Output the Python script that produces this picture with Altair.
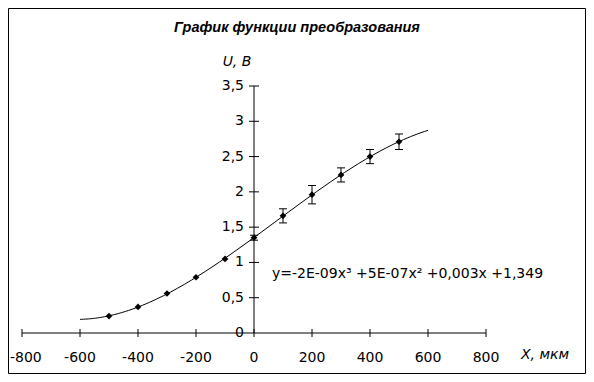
import altair as alt
import pandas as pd

# ---- data ----
x_vals = [-500, -400, -300, -200, -100, 0, 100, 200, 300, 400, 500]
u_vals = [0.24, 0.37, 0.56, 0.79, 1.05, 1.35, 1.66, 1.96, 2.24, 2.50, 2.71]
err_x = [0, 100, 200, 300, 400, 500]
err_u = [1.35, 1.66, 1.96, 2.24, 2.50, 2.71]
err_e = [0.035, 0.10, 0.13, 0.10, 0.10, 0.11]

x_ticks = [-800, -600, -400, -200, 0, 200, 400, 600, 800]
x_tick_labels = ["-800", "-600", "-400", "-200", "0", "200", "400", "600", "800"]
y_ticks = [0, 0.5, 1, 1.5, 2, 2.5, 3, 3.5]
y_tick_labels = ["0", "0,5", "1", "1,5", "2", "2,5", "3", "3,5"]

title_text = "График функции преобразования"
y_title = "U, B"
x_title = "X, мкм"
equation = "y=-2E-09x³ +5E-07x² +0,003x +1,349"
trend_extent = [-600, 600]

# ---- layout ----
W, H = 578, 366
X0, X1 = 14, 478      # pixel positions of -800 and 800
Y0, Y1 = 325, 78      # pixel positions of 0 and 3.5
FONT = "DejaVu Sans"

xs = alt.Scale(domain=[-800, 800], range=[X0, X1])
ys = alt.Scale(domain=[0, 3.5], range=[Y0, Y1])

pts = pd.DataFrame({"x": x_vals, "u": u_vals})
errs = pd.DataFrame({"x": err_x, "u": err_u, "e": err_e})
errs["lo"] = errs["u"] - errs["e"]
errs["hi"] = errs["u"] + errs["e"]
xt = pd.DataFrame({"x": x_ticks, "lab": x_tick_labels})
yt = pd.DataFrame({"y": y_ticks, "lab": y_tick_labels})
axis_x = pd.DataFrame({"x": [x_ticks[0]], "x2": [x_ticks[-1]], "y": [0]})
axis_y = pd.DataFrame({"x": [0], "y": [0], "y2": [y_ticks[-1]]})

frame = alt.Chart(pd.DataFrame({"a": [0]})).mark_rect(
    fill=None, stroke="black", strokeWidth=1
).encode(x=alt.value(0.5), x2=alt.value(W - 0.5), y=alt.value(0.5), y2=alt.value(H - 0.5))

xaxis_line = alt.Chart(axis_x).mark_rule(color="black", strokeWidth=1).encode(
    x=alt.X("x:Q", scale=xs, axis=None), x2="x2:Q",
    y=alt.Y("y:Q", scale=ys, axis=None))
yaxis_line = alt.Chart(axis_y).mark_rule(color="black", strokeWidth=1).encode(
    x=alt.X("x:Q", scale=xs, axis=None),
    y=alt.Y("y:Q", scale=ys, axis=None), y2="y2:Q")

xtick_marks = alt.Chart(xt).mark_rule(color="black", strokeWidth=1).encode(
    x=alt.X("x:Q", scale=xs, axis=None), y=alt.value(Y0 - 4), y2=alt.value(Y0 + 4))
xtick_labels = alt.Chart(xt.iloc[1:]).mark_text(
    font=FONT, fontSize=14, baseline="middle", align="center", color="black"
).encode(x=alt.X("x:Q", scale=xs, axis=None), y=alt.value(Y0 + 25), text="lab:N")
# the leftmost label sits against the frame, as in the reference
xtick_first = alt.Chart(xt.iloc[:1]).mark_text(
    font=FONT, fontSize=14, baseline="middle", align="left", color="black"
).encode(x=alt.value(2), y=alt.value(Y0 + 25), text="lab:N")

ytick_marks = alt.Chart(yt[yt["y"] > 0]).mark_rule(color="black", strokeWidth=1).encode(
    y=alt.Y("y:Q", scale=ys, axis=None), x=alt.value(241), x2=alt.value(251))
ytick_labels = alt.Chart(yt).mark_text(
    font=FONT, fontSize=14, baseline="middle", align="right", color="black"
).encode(y=alt.Y("y:Q", scale=ys, axis=None), x=alt.value(236), text="lab:N")

trend = alt.Chart(pts).transform_regression(
    "x", "u", method="poly", order=3, extent=trend_extent
).mark_line(color="black", strokeWidth=1).encode(
    x=alt.X("x:Q", scale=xs, axis=None), y=alt.Y("u:Q", scale=ys, axis=None))

err_rules = alt.Chart(errs).mark_rule(color="black", strokeWidth=1).encode(
    x=alt.X("x:Q", scale=xs, axis=None),
    y=alt.Y("lo:Q", scale=ys, axis=None), y2="hi:Q")
cap_shape = "M -1 0 L 1 0"
err_lo = alt.Chart(errs).mark_point(shape=cap_shape, size=64, filled=False,
                                    stroke="black", strokeWidth=1, opacity=1).encode(
    x=alt.X("x:Q", scale=xs, axis=None), y=alt.Y("lo:Q", scale=ys, axis=None))
err_hi = alt.Chart(errs).mark_point(shape=cap_shape, size=64, filled=False,
                                    stroke="black", strokeWidth=1, opacity=1).encode(
    x=alt.X("x:Q", scale=xs, axis=None), y=alt.Y("hi:Q", scale=ys, axis=None))

points = alt.Chart(pts).mark_point(shape="diamond", size=45, filled=True,
                                   color="black", opacity=1).encode(
    x=alt.X("x:Q", scale=xs, axis=None), y=alt.Y("u:Q", scale=ys, axis=None))

texts = pd.DataFrame({"t": [title_text]})
title_mark = alt.Chart(texts).mark_text(
    font="Liberation Sans", fontSize=14.5, fontWeight="bold", fontStyle="italic",
    align="center", baseline="middle", color="black"
).encode(x=alt.value(289), y=alt.value(20), text="t:N")

ytitle_mark = alt.Chart(pd.DataFrame({"t": [y_title]})).mark_text(
    font=FONT, fontSize=14, fontStyle="italic", align="center", baseline="middle", color="black"
).encode(x=alt.value(229), y=alt.value(54), text="t:N")

xtitle_mark = alt.Chart(pd.DataFrame({"t": [x_title]})).mark_text(
    font=FONT, fontSize=14, fontStyle="italic", align="center", baseline="middle", color="black"
).encode(x=alt.value(537), y=alt.value(347), text="t:N")

eq_mark = alt.Chart(pd.DataFrame({"t": [equation]})).mark_text(
    font=FONT, fontSize=14, align="left", baseline="middle", color="black"
).encode(x=alt.value(264), y=alt.value(266), text="t:N")

chart = alt.layer(
    frame, xaxis_line, yaxis_line, xtick_marks, ytick_marks,
    trend, err_rules, err_lo, err_hi, points,
    xtick_labels, xtick_first, ytick_labels, title_mark, ytitle_mark, xtitle_mark, eq_mark
).properties(
    width=W, height=H, padding=0, autosize=alt.AutoSizeParams(type="none")
).configure_view(stroke=None).configure(background="white")

chart.save("out.html", embed_options={"renderer": "svg", "actions": False})
